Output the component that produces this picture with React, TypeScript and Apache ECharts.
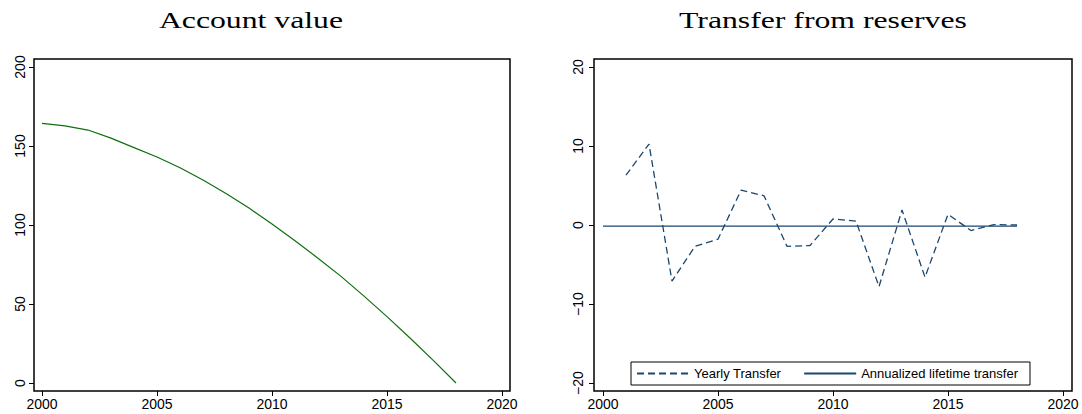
import React, { useEffect, useRef } from 'react';
import * as echarts from 'echarts';

const years = [2000, 2001, 2002, 2003, 2004, 2005, 2006, 2007, 2008, 2009, 2010, 2011, 2012, 2013, 2014, 2015, 2016, 2017, 2018];
const accountValue = [164.3, 162.7, 160.1, 155, 149, 143, 136.2, 128.5, 120, 110.7, 100.6, 90, 79, 67.5, 55, 42, 28.5, 14.5, 0];

const transferYears = [2001, 2002, 2003, 2004, 2005, 2006, 2007, 2008, 2009, 2010, 2011, 2012, 2013, 2014, 2015, 2016, 2017, 2018];
const yearlyTransfer = [6.3, 10.25, -7.1, -2.7, -1.8, 4.4, 3.7, -2.7, -2.6, 0.76, 0.5, -7.8, 1.9, -6.6, 1.35, -0.7, 0.05, 0.0];

const annualizedYears = [2000, 2018];
const annualizedTransfer = [-0.15, -0.15];

const xTicks = [2000, 2005, 2010, 2015, 2020];
const leftYTicks = [0, 50, 100, 150, 200];
const rightYTicks = [-20, -10, 0, 10, 20];

const titles = ['Account value', 'Transfer from reserves'];
const seriesNames = ['Yearly Transfer', 'Annualized lifetime transfer'];

const SANS = '"Liberation Sans", Arial, sans-serif';
const NAVY = '#1a476f';
const GREEN = '#0f6f0f';

function fmtMinus(v: number) {
  return v < 0 ? '\u2212' + Math.abs(v) : String(v);
}

function xAxis(gridIndex: number, min: number, max: number) {
  return {
    type: 'value',
    gridIndex,
    min,
    max,
    axisLine: { show: false, onZero: false },
    axisTick: { show: true, length: 5, lineStyle: { color: '#000', width: 1 }, customValues: xTicks },
    axisLabel: { customValues: xTicks, fontSize: 14, fontFamily: SANS, color: '#000', margin: 6, formatter: (v: number) => String(v) },
    splitLine: { show: false },
  };
}

function yAxis(gridIndex: number, min: number, max: number, ticks: number[], margin: number) {
  return {
    type: 'value',
    gridIndex,
    min,
    max,
    axisLine: { show: false, onZero: false },
    axisTick: { show: true, length: 5, lineStyle: { color: '#000', width: 1 }, customValues: ticks },
    axisLabel: {
      customValues: ticks,
      rotate: 90,
      fontSize: 14,
      fontFamily: SANS,
      color: '#000',
      margin,
      formatter: (v: number) => fmtMinus(v),
    },
    splitLine: { show: false },
  };
}

export default function App() {
  const ref = useRef<HTMLDivElement>(null);
  useEffect(() => {
    if (!ref.current) return;
    const chart = echarts.init(ref.current, null, { renderer: 'svg' });
    chart.setOption({
      animation: false,
      backgroundColor: '#fff',
      grid: [
        { left: 34, top: 59, width: 476, height: 332, show: true, borderColor: '#000', borderWidth: 1.5, backgroundColor: '#fff', containLabel: false },
        { left: 594, top: 59, width: 478, height: 332, show: true, borderColor: '#000', borderWidth: 1.5, backgroundColor: '#fff', containLabel: false },
      ],
      xAxis: [xAxis(0, 1999.652, 2020.348), xAxis(1, 1999.609, 2020.391)],
      yAxis: [yAxis(0, -5.06, 205.06, leftYTicks, 7), yAxis(1, -21.01, 21.01, rightYTicks, 9)],
      legend: {
        data: seriesNames,
        left: 631,
        top: 362,
        orient: 'horizontal',
        borderColor: '#000',
        borderWidth: 1,
        backgroundColor: '#fff',
        padding: [5, 12, 5, 5],
        itemWidth: 52,
        itemHeight: 10,
        itemGap: 22,
        selectedMode: false,
        itemStyle: { color: 'rgba(0,0,0,0)', borderWidth: 0, borderColor: 'rgba(0,0,0,0)', opacity: 0 },
        textStyle: { fontSize: 13, fontFamily: SANS, color: '#000' },
      },
      graphic: [
        {
          type: 'text',
          x: 251,
          y: 20,
          scaleX: 1.38,
          style: { text: titles[0], font: '23px "Liberation Serif", serif', fill: '#000', textAlign: 'center', textVerticalAlign: 'middle', verticalAlign: 'middle' },
        },
        {
          type: 'text',
          x: 823,
          y: 20,
          scaleX: 1.38,
          style: { text: titles[1], font: '23px "Liberation Serif", serif', fill: '#000', textAlign: 'center', textVerticalAlign: 'middle', verticalAlign: 'middle' },
        },
      ],
      series: [
        {
          type: 'line',
          name: titles[0],
          xAxisIndex: 0,
          yAxisIndex: 0,
          data: years.map((y, i) => [y, accountValue[i]]),
          symbol: 'none',
          lineStyle: { color: GREEN, width: 1.2 },
          itemStyle: { color: GREEN },
        },
        {
          type: 'line',
          name: seriesNames[0],
          xAxisIndex: 1,
          yAxisIndex: 1,
          data: transferYears.map((y, i) => [y, yearlyTransfer[i]]),
          symbol: 'none',
          lineStyle: { color: NAVY, width: 1.3, type: [7, 4] },
          itemStyle: { color: NAVY },
        },
        {
          type: 'line',
          name: seriesNames[1],
          xAxisIndex: 1,
          yAxisIndex: 1,
          data: annualizedYears.map((y, i) => [y, annualizedTransfer[i]]),
          symbol: 'none',
          lineStyle: { color: NAVY, width: 1.3 },
          itemStyle: { color: NAVY },
        },
      ],
    });
    return () => chart.dispose();
  }, []);
  return <div ref={ref} style={{ position: 'absolute', left: 0, top: 0, width: 1082, height: 414 }} />;
}
